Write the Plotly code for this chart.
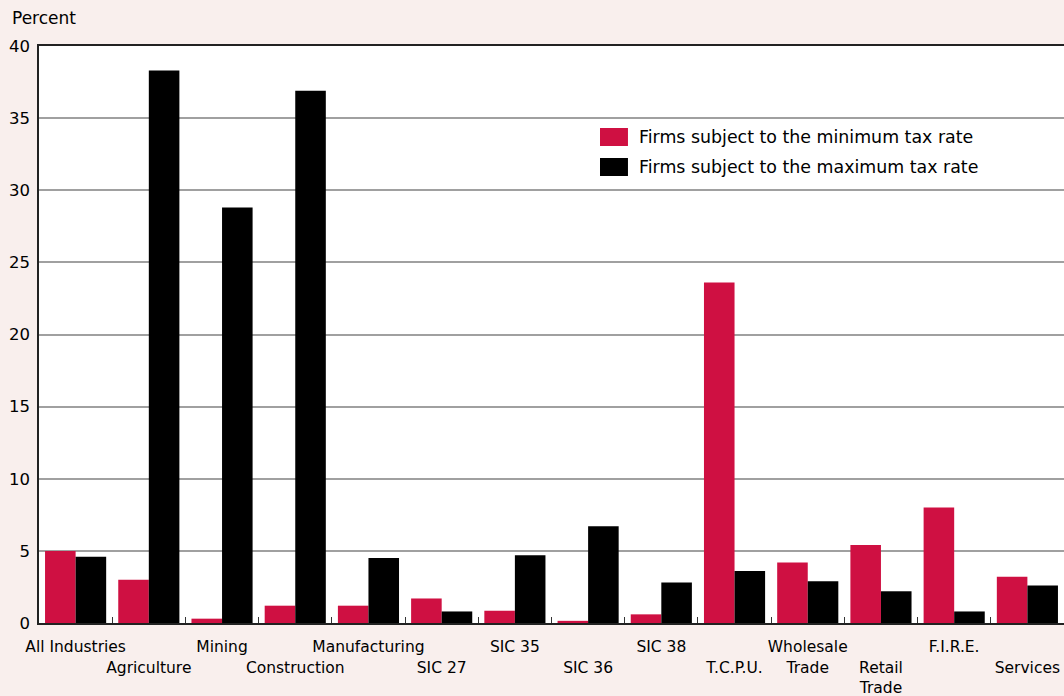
import plotly.graph_objects as go

categories = ["All Industries", "Agriculture", "Mining", "Construction", "Manufacturing",
              "SIC 27", "SIC 35", "SIC 36", "SIC 38", "T.C.P.U.", "Wholesale Trade",
              "Retail Trade", "F.I.R.E.", "Services"]
min_rate = [5.0, 3.0, 0.3, 1.2, 1.2, 1.7, 0.85, 0.15, 0.6, 23.6, 4.2, 5.4, 8.0, 3.2]
max_rate = [4.6, 38.3, 28.8, 36.9, 4.5, 0.8, 4.7, 6.7, 2.8, 3.6, 2.9, 2.2, 0.8, 2.6]
tick_labels = ["All Industries", "<br>Agriculture", "Mining", "<br>Construction",
               "Manufacturing", "<br>SIC 27", "SIC 35", "<br>SIC 36", "SIC 38",
               "<br>T.C.P.U.", "Wholesale<br>Trade", "<br>Retail<br>Trade", "F.I.R.E.",
               "<br>Services"]
series_names = ["Firms subject to the minimum tax rate", "Firms subject to the maximum tax rate"]
y_ticks = [0, 5, 10, 15, 20, 25, 30, 35, 40]

RED = "#cf1042"
BLACK = "#000000"
BG = "#f9efed"
FONT = "DejaVu Sans, Verdana, sans-serif"

fig = go.Figure()
fig.add_trace(go.Bar(x=categories, y=min_rate, name=series_names[0],
                     marker=dict(color=RED, line=dict(width=0))))
fig.add_trace(go.Bar(x=categories, y=max_rate, name=series_names[1],
                     marker=dict(color=BLACK, line=dict(width=0))))

# manual legend (large rectangular swatches as in the original)
shapes = []
annotations = []
swatch_rows = [(0.8579, 0.8267, 0.8423), (0.8059, 0.7747, 0.7903)]
for (ytop, ybot, ymid), color, name in zip(swatch_rows, [RED, BLACK], series_names):
    shapes.append(dict(type="rect", xref="paper", yref="paper", x0=0.5473, x1=0.5746,
                       y0=ybot, y1=ytop, fillcolor=color, line=dict(width=0)))
    annotations.append(dict(text=name, xref="paper", yref="paper", x=0.5834, y=ymid,
                            xanchor="left", yanchor="middle", showarrow=False,
                            font=dict(size=17.4, family=FONT, color="#000000")))

annotations.append(dict(text="Percent", xref="paper", yref="paper", x=-0.0283, y=1.0,
                        xanchor="left", yanchor="middle", yshift=28, showarrow=False,
                        font=dict(size=17, family=FONT)))

fig.update_layout(
    width=1064, height=696,
    margin=dict(l=39, r=0, t=46, b=73, autoexpand=False),
    paper_bgcolor=BG, plot_bgcolor="#ffffff",
    barmode="group", bargap=0.165, bargroupgap=0,
    font=dict(family=FONT, size=15, color="#000000"),
    showlegend=False,
    xaxis=dict(range=[-0.5, 13.5], tickmode="array", tickvals=categories, ticktext=tick_labels,
               tickangle=0, automargin=False,
               tickson="boundaries", ticks="inside", ticklen=6, tickcolor="#333333",
               showline=True, linecolor="#222222", linewidth=1.5, mirror=True,
               showgrid=False, tickfont=dict(size=15.5, family=FONT), ticklabelstandoff=9),
    yaxis=dict(range=[0, 40], tickvals=y_ticks, showgrid=True, gridcolor="#a0a0a0",
               gridwidth=1.5, zeroline=False, showline=True, linecolor="#222222",
               linewidth=1.5, ticks="", automargin=False,
               tickfont=dict(size=16.5, family=FONT), ticklabelstandoff=4),
    shapes=shapes,
    annotations=annotations,
)

fig.write_html("out.html")
